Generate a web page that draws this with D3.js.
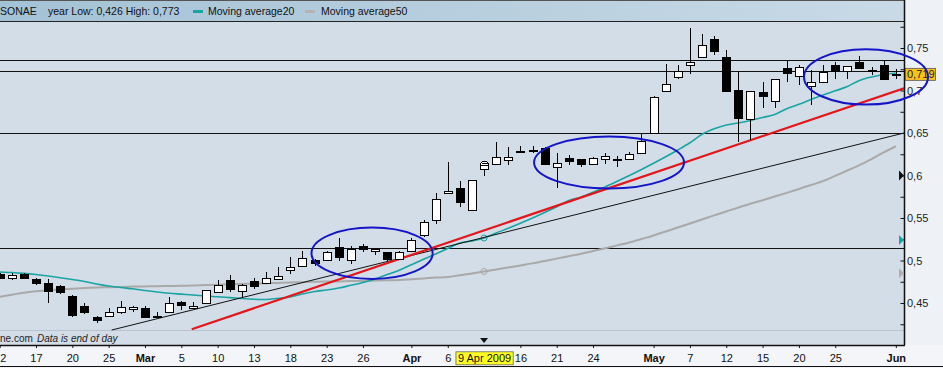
<!DOCTYPE html>
<html><head><meta charset="utf-8">
<script src="https://cdn.jsdelivr.net/npm/d3@7"></script>
<style>body{margin:0;background:#f3f5f8;} svg{display:block;font-family:"Liberation Sans",Arial,sans-serif;}</style>
</head><body><svg id="c" width="943" height="368"></svg>
<script>
// ---- data ----
const dates = [
 "2009-02-12","2009-02-13","2009-02-16","2009-02-17","2009-02-18","2009-02-19","2009-02-20","2009-02-23","2009-02-24","2009-02-25","2009-02-26","2009-02-27",
 "2009-03-02","2009-03-03","2009-03-04","2009-03-05","2009-03-06","2009-03-09","2009-03-10","2009-03-11","2009-03-12","2009-03-13","2009-03-16","2009-03-17","2009-03-18","2009-03-19","2009-03-20","2009-03-23","2009-03-24","2009-03-25","2009-03-26","2009-03-27","2009-03-30","2009-03-31",
 "2009-04-01","2009-04-02","2009-04-03","2009-04-06","2009-04-07","2009-04-08","2009-04-09","2009-04-14","2009-04-15","2009-04-16","2009-04-17","2009-04-20","2009-04-21","2009-04-22","2009-04-23","2009-04-24","2009-04-27","2009-04-28","2009-04-29","2009-04-30",
 "2009-05-04","2009-05-05","2009-05-06","2009-05-07","2009-05-08","2009-05-11","2009-05-12","2009-05-13","2009-05-14","2009-05-15","2009-05-18","2009-05-19","2009-05-20","2009-05-21","2009-05-22","2009-05-25","2009-05-26","2009-05-27","2009-05-28","2009-05-29",
 "2009-06-01"];
const open  = [.484,.480,.484,.478,.474,.470,.458,.446,.434,.435,.439,.443,.444,.435,.439,.451,.444,.450,.463,.477,.464,.476,.473,.478,.489,.494,.501,.501,.516,.501,.517,.511,.510,.502,.511,.530,.548,.579,.585,.559,.608,.614,.618,.629,.630,.632,.610,.621,.619,.613,.620,.619,.619,.626,.650,.700,.716,.730,.739,.760,.739,.701,.667,.698,.688,.727,.717,.705,.710,.730,.723,.734,.724,.730,.720];
const high  = [.485,.485,.485,.479,.478,.471,.459,.450,.435,.444,.452,.447,.446,.440,.457,.452,.451,.465,.477,.483,.472,.480,.487,.492,.504,.511,.502,.511,.527,.517,.519,.514,.510,.511,.527,.548,.579,.616,.593,.595,.613,.640,.633,.635,.635,.634,.626,.624,.620,.622,.626,.623,.628,.650,.693,.731,.730,.773,.766,.764,.748,.723,.700,.710,.714,.735,.730,.724,.730,.733,.729,.741,.728,.735,.725];
const low   = [.478,.477,.479,.471,.450,.461,.434,.437,.426,.434,.437,.439,.432,.432,.438,.442,.443,.449,.463,.463,.456,.467,.472,.477,.484,.493,.493,.500,.499,.496,.510,.506,.500,.501,.510,.528,.543,.578,.563,.558,.599,.612,.612,.626,.627,.613,.585,.612,.610,.612,.613,.610,.618,.625,.649,.699,.714,.720,.738,.742,.699,.640,.642,.680,.680,.710,.706,.683,.709,.714,.714,.727,.718,.713,.713];
const close = [.479,.483,.480,.474,.464,.463,.436,.439,.430,.439,.445,.445,.433,.433,.450,.448,.447,.465,.471,.467,.471,.470,.480,.482,.492,.503,.497,.510,.504,.513,.513,.514,.502,.510,.524,.545,.572,.582,.569,.595,.612,.622,.622,.629,.630,.613,.615,.617,.613,.621,.623,.619,.625,.641,.692,.708,.723,.734,.754,.746,.700,.668,.699,.693,.714,.721,.728,.710,.722,.723,.729,.727,.724,.713,.719];
const ma20  = [.4865,.4859,.4849,.4835,.4818,.4798,.4776,.4753,.4724,.4700,.4682,.4667,.4647,.4629,.4614,.4604,.4594,.4582,.4573,.4563,.4553,.4545,.4541,.4555,.4571,.4606,.4635,.4653,.4676,.4708,.4741,.4782,.4835,.4886,.4951,.5014,.5077,.5141,.5206,.5229,.5265,.5324,.5379,.5438,.5500,.5565,.5633,.5705,.5745,.5802,.5865,.5932,.6000,.6071,.6144,.6220,.6300,.6385,.6485,.6549,.6594,.6618,.6647,.6682,.6718,.6785,.6838,.6894,.6947,.6996,.7047,.7118,.7159,.7188,.7206];
const ma50  = [.4574,.4598,.4620,.4637,.4651,.4660,.4669,.4676,.4682,.4686,.4689,.4693,.4695,.4698,.4700,.4703,.4706,.4711,.4715,.4720,.4724,.4728,.4733,.4736,.4740,.4745,.4749,.4752,.4754,.4758,.4760,.4764,.4767,.4771,.4779,.4788,.4799,.4806,.4827,.4847,.4871,.4894,.4918,.4942,.4966,.4994,.5022,.5051,.5079,.5112,.5145,.5178,.5212,.5253,.5295,.5342,.5389,.5436,.5483,.5531,.5576,.5624,.5667,.5709,.5752,.5796,.5842,.5888,.5935,.5996,.6059,.6121,.6194,.6271,.6344];
const xTickIdx    = [0,3,6,9,12,15,18,21,24,27,30,34,37,40,43,46,49,54,57,60,63,66,69,74];
const xTickLabels = ["12","17","20","25","Mar","5","10","13","18","23","26","Apr","6","9 Apr 2009","16","21","24","May","7","12","15","20","25","Jun"];
const yTickValues = [0.45,0.5,0.55,0.6,0.65,0.7,0.75];
const yTickLabels = ["0,45","0,5","0,55","0,6","0,65","0,7","0,75"];
const yMinorTicks = [0.425,0.475,0.525,0.575,0.625,0.675,0.725,0.775];
const levels = [0.7361,0.7229,0.65,0.5143];
const redTrend   = [[15.86,0.4191],[74.68,0.7026]];
const blackTrend = [[9.25,0.4182],[74.68,0.65]];
const ellipses = [ // center index, center value, radius days, radius value
 {k:30.75,v:0.5085,rk:5.0,rv:0.0302},
 {k:50.32,v:0.6153,rk:6.19,rv:0.0306},
 {k:71.54,v:0.7159,rk:5.12,rv:0.0325}];
const selectedIdx = 40;
const lastClose = 0.719, lastLabel = "0,719";
const sideMarkers = [{v:0.600,c:"#111"},{v:0.524,c:"#1aa3a3"},{v:0.485,c:"#b0b0b0"}];

// ---- layout ----
const W=943,H=368, PL=0, PR=904, PT=21, PB=345;
const svg=d3.select("#c");
const x=d3.scaleLinear().domain([0,74]).range([-0.33,895.8]);
const y=d3.scaleLinear().domain([0.45,0.75]).range([303,48]);

const defs=svg.append("defs");
const gr=defs.append("linearGradient").attr("id","hdr").attr("x1","0").attr("x2","1").attr("y1","0").attr("y2","0");
gr.append("stop").attr("offset","0").attr("stop-color","#a4c2d6");
gr.append("stop").attr("offset","1").attr("stop-color","#c9dae6");
defs.append("clipPath").attr("id","clip").append("rect").attr("x",PL).attr("y",PT).attr("width",PR-PL).attr("height",PB-PT);

svg.append("rect").attr("width",W).attr("height",H).attr("fill","#f3f5f8");
svg.append("rect").attr("x",0).attr("y",PT).attr("width",PR).attr("height",PB-PT).attr("fill","#d3dde8");
svg.append("rect").attr("x",0).attr("y",0).attr("width",PR).attr("height",PT).attr("fill","url(#hdr)");
svg.append("line").attr("x1",0).attr("x2",PR).attr("y1",PT+0.5).attr("y2",PT+0.5).attr("stroke","#222");
svg.append("line").attr("x1",0).attr("x2",PR).attr("y1",0.5).attr("y2",0.5).attr("stroke","#555");

// header legend
const hdr=svg.append("g").attr("font-size","10.5px").attr("fill","#111");
hdr.append("text").attr("x",0).attr("y",15).text("SONAE");
hdr.append("text").attr("x",48).attr("y",15).text("year Low: 0,426 High: 0,773");
hdr.append("rect").attr("x",193).attr("y",10).attr("width",10).attr("height",3).attr("fill","#1aa3a3");
hdr.append("text").attr("x",208).attr("y",15).text("Moving average20");
hdr.append("rect").attr("x",305).attr("y",10).attr("width",10).attr("height",3).attr("fill","#b3b3b3");
hdr.append("text").attr("x",321).attr("y",15).text("Moving average50");

const g=svg.append("g").attr("clip-path","url(#clip)");
// bottom light line & credits
g.append("line").attr("x1",0).attr("x2",PR).attr("y1",330.5).attr("y2",330.5).attr("stroke","#b9c3cf");
g.append("text").attr("x",0).attr("y",342).attr("font-size","10px").attr("fill","#222").text("ne.com");
g.append("text").attr("x",37).attr("y",342).attr("font-size","10px").attr("font-style","italic").attr("fill","#222").text("Data is end of day");

// level lines
g.selectAll(".lvl").data(levels).enter().append("line")
 .attr("x1",0).attr("x2",PR).attr("y1",d=>Math.round(y(d))+0.5).attr("y2",d=>Math.round(y(d))+0.5)
 .attr("stroke","#111").attr("stroke-width",1);

// moving averages
const line=d3.line().x((d,i)=>x(i)).y(d=>y(d)).curve(d3.curveMonotoneX);
g.append("path").attr("d",line(ma50)).attr("fill","none").attr("stroke","#a9a9a9").attr("stroke-width",2);
g.append("path").attr("d",line(ma20)).attr("fill","none").attr("stroke","#1aa3a3").attr("stroke-width",1.6);
g.append("circle").attr("cx",x(selectedIdx)).attr("cy",y(ma20[selectedIdx])).attr("r",3).attr("fill","none").attr("stroke","#1aa3a3");
g.append("circle").attr("cx",x(selectedIdx)).attr("cy",y(ma50[selectedIdx])).attr("r",3).attr("fill","none").attr("stroke","#a9a9a9");

// trend lines
const tl=d3.line().x(d=>x(d[0])).y(d=>y(d[1]));
g.append("path").attr("d",tl(blackTrend)).attr("stroke","#111").attr("stroke-width",1).attr("fill","none");
g.append("path").attr("d",tl(redTrend)).attr("stroke","#e3161b").attr("stroke-width",2.2).attr("fill","none");

// candles
const cg=g.append("g").attr("shape-rendering","crispEdges");
dates.forEach((d,k)=>{
  const cx=Math.round(x(k))+0.5;
  const o=open[k],c=close[k];
  cg.append("line").attr("x1",cx).attr("x2",cx).attr("y1",y(high[k])).attr("y2",y(low[k])).attr("stroke","#000");
  const top=Math.round(y(Math.max(o,c))), bot=Math.round(y(Math.min(o,c)));
  if(bot-top<2){
    cg.append("rect").attr("x",cx-4.5).attr("y",top-0.5).attr("width",9).attr("height",2).attr("fill","#000");
  } else {
    cg.append("rect").attr("x",cx-4).attr("y",top+0.5).attr("width",8).attr("height",bot-top)
      .attr("fill",c>=o?"#fff":"#000").attr("stroke","#000");
  }
  if(k===selectedIdx){
    const ty=Math.round(y(Math.max(o,c)));
    cg.append("path").attr("d",`M${cx-4},${ty}A4,4 0 0 1 ${cx+4},${ty}Z`).attr("fill","#fff").attr("stroke","#000");
    cg.append("line").attr("x1",cx-3).attr("x2",cx+3).attr("y1",ty-1.5).attr("y2",ty-1.5).attr("stroke","#000");
  }
});

// right axis
svg.append("rect").attr("x",PR+1).attr("y",0).attr("width",W-PR-1).attr("height",PB).attr("fill","#eef2f6");
const ax=svg.append("g").attr("transform",`translate(${PR+0.5},0)`);
ax.call(d3.axisLeft(y).tickValues(yTickValues.concat(yMinorTicks)).tickSize(4).tickFormat(""));
ax.select(".domain").remove();
ax.selectAll("line").attr("stroke","#111");
const axl=svg.append("g").attr("transform",`translate(${PR},0)`);
axl.call(d3.axisRight(y).tickValues(yTickValues).tickSize(0).tickPadding(3).tickFormat((d,i)=>yTickLabels[i]));
axl.select(".domain").remove();
axl.selectAll("text").attr("font-size","11px").attr("fill","#222").attr("font-family","Liberation Sans, Arial, sans-serif");
svg.append("line").attr("x1",PR+0.5).attr("x2",PR+0.5).attr("y1",0).attr("y2",PB).attr("stroke","#111").attr("stroke-width",1.5);

// side markers
sideMarkers.forEach(m=>{
  const yy=y(m.v);
  svg.append("path").attr("d",`M${PR-5},${yy-5}L${PR},${yy}L${PR-5},${yy+5}Z`).attr("fill",m.c);
});

// last price box
const ly=y(lastClose);
svg.append("rect").attr("x",PR+1.5).attr("y",ly-6).attr("width",30).attr("height",12).attr("fill","#f8c21c").attr("stroke","#555").attr("stroke-width",0.8);
svg.append("text").attr("x",PR+3).attr("y",ly+4).attr("font-size","11px").attr("fill","#222").text(lastLabel);

// bottom axis
svg.append("rect").attr("x",0).attr("y",PB).attr("width",W).attr("height",H-PB).attr("fill","#f3f5f8");
const bx=svg.append("g").attr("transform",`translate(0,${PB})`);
bx.call(d3.axisBottom(x).tickValues(xTickIdx).tickSize(3).tickPadding(3).tickFormat((d,i)=>xTickLabels[i]));
bx.select(".domain").remove();
bx.selectAll("line").attr("stroke","#111");
bx.selectAll("text").attr("font-size","11px").attr("fill","#111").attr("font-family","Liberation Sans, Arial, sans-serif")
  .attr("font-weight",(d,i)=>/^[A-Z][a-z]+$/.test(xTickLabels[i])?"bold":"normal")
  .attr("y",9);
svg.append("line").attr("x1",0).attr("x2",PR+1).attr("y1",PB+0.5).attr("y2",PB+0.5).attr("stroke","#111").attr("stroke-width",1.5);
svg.append("line").attr("x1",0).attr("x2",W).attr("y1",H-1.5).attr("y2",H-1.5).attr("stroke","#111").attr("stroke-width",1);

// selected date box
const selTick=bx.selectAll(".tick").filter((d,i)=>xTickLabels[i]==="9 Apr 2009");
selTick.select("line").remove();
{
  const sx=x(selectedIdx);
  const t=selTick.select("text").attr("text-anchor","middle");
  const bb=t.node().getBBox();
  selTick.insert("rect","text").attr("x",bb.x-2).attr("y",bb.y).attr("width",bb.width+4).attr("height",bb.height+1)
    .attr("fill","#ffff22").attr("stroke","#666").attr("stroke-width",0.8);
  svg.append("path").attr("d",`M${sx-4},${PB-7}L${sx+4},${PB-7}L${sx},${PB-2}Z`).attr("fill","#111");
}

// annotation ellipses
svg.append("g").selectAll("ellipse").data(ellipses).enter().append("ellipse")
 .attr("cx",d=>x(d.k)).attr("cy",d=>y(d.v))
 .attr("rx",d=>x(d.k+d.rk)-x(d.k)).attr("ry",d=>y(d.v-d.rv)-y(d.v))
 .attr("fill","none").attr("stroke","#1515c8").attr("stroke-width",2);
</script></body></html>
